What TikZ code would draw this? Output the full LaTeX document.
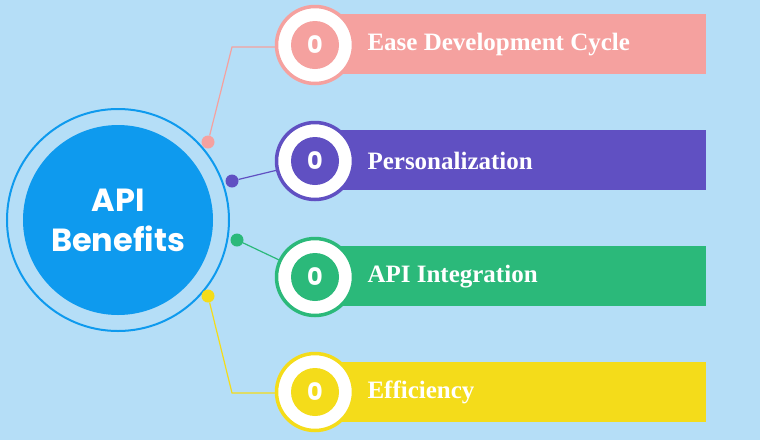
\documentclass[tikz,border=0pt]{standalone}
\usepackage{fontspec}
\setmainfont{Liberation Serif}
\newfontfamily\pop{Poppins}
\definecolor{bg}{HTML}{B5DEF7}
\definecolor{bigc}{HTML}{0E9AEE}
\definecolor{cA}{HTML}{F5A19F}
\definecolor{cB}{HTML}{6050C2}
\definecolor{cC}{HTML}{2BB97A}
\definecolor{cD}{HTML}{F4DC1A}
\begin{document}
\begin{tikzpicture}[x=1pt,y=-1pt,
  bar/.style={fill=#1,draw=none},
  numc/.style={circle,draw=#1,line width=3.5pt,fill=white,minimum size=77pt,inner sep=0pt},
  numi/.style={circle,fill=#1,minimum size=48pt,inner sep=0pt,text=white,font=\pop\bfseries\fontsize{24}{24}\selectfont},
  lbl/.style={anchor=west,text=white,font=\bfseries\fontsize{25}{25}\selectfont},
  dotn/.style={circle,fill=#1,minimum size=13pt,inner sep=0pt},
  conn/.style={draw=#1,line width=1.2pt}]
\fill[bg] (0,0) rectangle (760,440);
\useasboundingbox (0,0) rectangle (760,440);
\draw[bigc,line width=2pt] (118,220) circle (111);
\node[circle,fill=bigc,minimum size=190pt,inner sep=0pt,text=white,align=center,
  font=\pop\bfseries\fontsize{32}{40}\selectfont] (main) at (118,220) {API\\Benefits};
% bars
\fill[cA] (300,14) rectangle (706,74);
\fill[cB] (300,130) rectangle (706,190);
\fill[cC] (300,246) rectangle (706,306);
\fill[cD] (300,362) rectangle (706,422);
\foreach \n/\c/\y/\t in {A/cA/45/Ease Development Cycle,B/cB/161/Personalization,C/cC/277/API Integration,D/cD/392/Efficiency}{
  \node[numc=\c] (o\n) at (315,\y) {};
  \node[numi=\c] (i\n) at (315,\y) {0\ifx\n A1\fi\ifx\n B2\fi\ifx\n C3\fi\ifx\n D4\fi};
  \node[lbl] (l\n) at (364,\y) {\t};
}
\node[dotn=cA] (dA) at (208,142) {};
\node[dotn=cB] (dB) at (232,181) {};
\node[dotn=cC] (dC) at (237,240) {};
\node[dotn=cD] (dD) at (208,296) {};
\coordinate (kA) at (232,47);
\coordinate (kD) at (232,393);
\draw[conn=cA] (dA) -- (kA) -- (oA.west|-kA);
\draw[conn=cB] (dB) -- (oB);
\draw[conn=cC] (dC) -- (oC);
\draw[conn=cD] (dD) -- (kD) -- (oD.west|-kD);
\end{tikzpicture}
\end{document}
